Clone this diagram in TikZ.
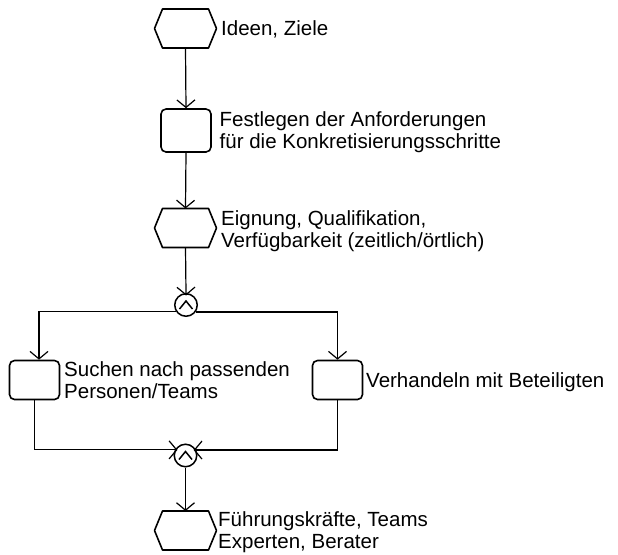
\documentclass[tikz,border=0pt]{standalone}
\usepackage{fontspec}
\setmainfont{Liberation Sans}
\usetikzlibrary{arrows.meta}
\begin{document}
\begin{tikzpicture}[x=1pt,y=-1pt,
  shapeline/.style={line width=1.6pt, draw=black, line join=round},
  hexa/.style={rectangle, minimum width=62pt, minimum height=39pt, inner sep=0pt, outer sep=0pt},
  task/.style={rectangle, rounded corners=5pt, shapeline, minimum width=50pt, inner sep=0pt},
  junction/.style={circle, line width=1.5pt, draw, minimum size=22.5pt, inner sep=0pt},
  flow/.style={line width=1.2pt, -{Straight Barb[length=7.5pt,width=18pt]}},
  deep/.style={shorten >=-2.5pt},
  lbl/.style={inner sep=0pt, anchor=base west, align=left, font=\fontsize{20.5}{22}\selectfont},
]
\useasboundingbox[fill=white] (0,0) rectangle (618,554);

% events (hexagons) and functions (rounded boxes)
\node[hexa] (ideas) at (185.5,28.5) {};
\node[task, minimum height=43pt] (req) at (186,130.5) {};
\node[hexa] (elig) at (185.5,228) {};
\node[junction] (split) at (186,305) {};
\node[task, minimum height=39pt] (find) at (34.5,380) {};
\node[task, minimum height=39pt] (nego) at (337.5,380) {};
\node[junction] (join) at (185.5,455.5) {};
\node[hexa] (lead) at (185.5,530.5) {};

\foreach \n in {ideas,elig,lead}
  \draw[shapeline] (\n.west) -- ([xshift=8pt]\n.north west) -- ([xshift=-8pt]\n.north east)
    -- (\n.east) -- ([xshift=-8pt]\n.south east) -- ([xshift=8pt]\n.south west) -- cycle;

% AND symbol inside the connectors
\foreach \n in {split,join}
  \draw[line width=1.5pt, line join=miter] ([shift={(-6.5pt,-4pt)}]\n.center)
    -- ([yshift=4pt]\n.center) -- ([shift={(6.5pt,-4pt)}]\n.center);

% labels (base anchor sits on the last line)
\node[lbl] (ideasT) at (221,35.9) {Ideen, Ziele};
\node[lbl] (reqT) at (219.5,148.3) {Festlegen der Anforderungen\\für die Konkretisierungsschritte};
\node[lbl] (eligT) at (221,247) {Eignung, Qualifikation,\\Verfügbarkeit (zeitlich/örtlich)};
\node[lbl] (findT) at (64,398) {Suchen nach passenden\\Personen/Teams};
\node[lbl] (negoT) at (366,387.3) {Verhandeln mit Beteiligten};
\node[lbl] (leadT) at (218,548.8) {Führungskräfte, Teams\\Experten, Berater};

% control flow
\draw[flow] (ideas.south) -- (req.north);
\draw[flow] (req.south) -- (elig.north);
\draw[flow, deep] (elig.south) -- (split.north);
\draw[flow] (split.215.7) -| ([xshift=4.5pt]find.north);
\draw[flow] (split.324.3) -| (nego.north);
\draw[flow, deep] (find.south) |- (join.152.7);
\draw[flow, deep] (nego.south) |- (join.27.3);
\draw[flow] (join.south) -- (lead.north);
\end{tikzpicture}
\end{document}
